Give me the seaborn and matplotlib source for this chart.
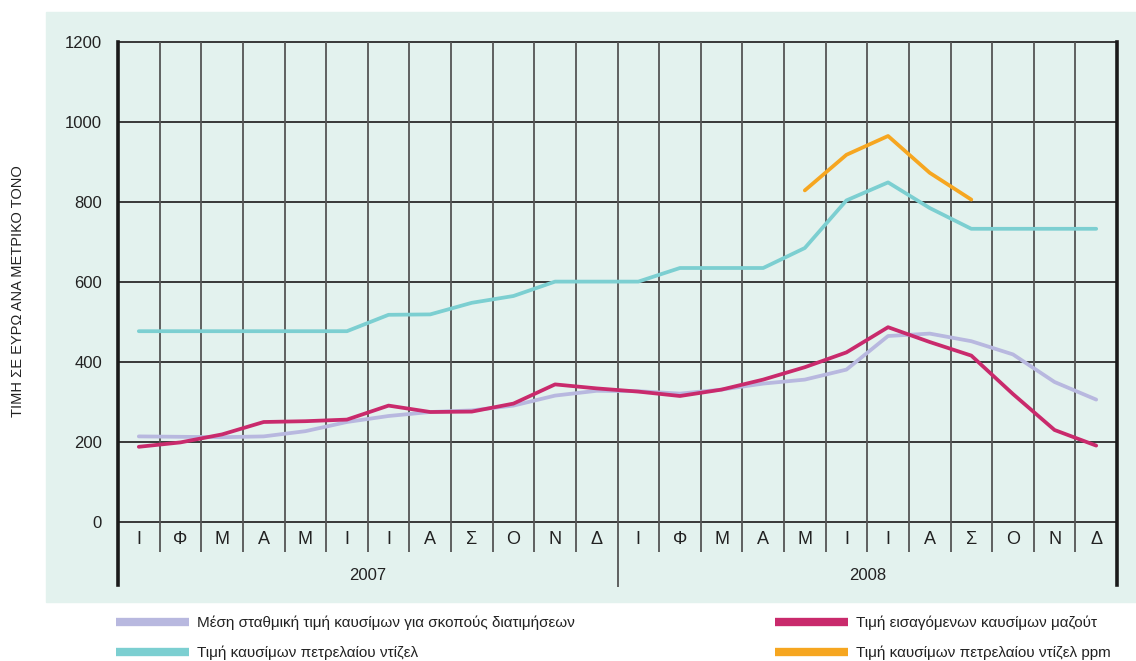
import pandas as pd
import numpy as np
import matplotlib
matplotlib.use('Agg')
import matplotlib.pyplot as plt
import seaborn as sns
from matplotlib.patches import Rectangle

# data (euro per metric tonne, monthly, 2007-2008)
months = ['Ι', 'Φ', 'Μ', 'Α', 'Μ', 'Ι', 'Ι', 'Α', 'Σ', 'Ο', 'Ν', 'Δ']
years = ['2007', '2008']

avg_price = [214, 213, 212, 214, 227, 250, 265, 275, 279, 291, 316, 328,
             327, 321, 331, 346, 356, 381, 465, 471, 452, 419, 350, 306]
mazout = [188, 199, 219, 250, 252, 256, 291, 275, 276, 296, 344, 334,
          326, 315, 331, 356, 387, 424, 487, 450, 416, 320, 230, 191]
diesel = [477, 477, 477, 477, 477, 477, 518, 519, 548, 565, 601, 601,
          601, 635, 635, 635, 685, 804, 849, 785, 733, 733, 733, 733]
diesel_ppm = [np.nan] * 16 + [829, 918, 965, 873, 806] + [np.nan] * 3

names = ['Μέση σταθμική τιμή καυσίμων για σκοπούς διατιμήσεων',
         'Τιμή καυσίμων πετρελαίου ντίζελ',
         'Τιμή εισαγόμενων καυσίμων μαζούτ',
         'Τιμή καυσίμων πετρελαίου ντίζελ ppm']
colors = ['#b8b8df', '#7ccfd1', '#c92a6c', '#f6a620']

x = np.arange(24) + 0.5
df = pd.DataFrame({'x': np.tile(x, 4),
                   'price': avg_price + diesel + mazout + diesel_ppm,
                   'series': np.repeat(names, 24)})

sns.set_style('white')
plt.rcParams['font.family'] = ['Liberation Sans', 'DejaVu Sans']

W, H = 1136, 661
fig = plt.figure(figsize=(W / 100, H / 100), dpi=100)
fig.patch.set_facecolor('white')

# light mint panel behind the chart
fig.patches.append(Rectangle((46 / W, 1 - 602 / H), (W - 46) / W, 590 / H,
                             transform=fig.transFigure, color='#e3f2ee', zorder=-1))

ax = fig.add_axes([118 / W, 1 - 522 / H, 999 / W, 480 / H])
ax.set_zorder(1)
ax.set_facecolor('none')

sns.lineplot(data=df, x='x', y='price', hue='series', palette=dict(zip(names, colors)),
             hue_order=names, lw=2.7, ax=ax, legend=False, zorder=5)

ax.set_xlim(0, 24)
ax.set_ylim(0, 1200)

# grid: horizontal lines plus month dividers that run into the label row
yt = list(range(0, 1201, 200))
ax.hlines(yt, 0, 24, colors='#2a2a2a', lw=1.3, clip_on=False, zorder=2)
ax.vlines([i for i in range(1, 24) if i != 12], -75, 1200, colors='#555555', lw=1.3,
          clip_on=False, zorder=2)
ax.vlines(12, -162, 1200, colors='#555555', lw=1.3, clip_on=False, zorder=2)

for side in ['top', 'bottom']:
    ax.spines[side].set_visible(False)
for side in ['left', 'right']:
    ax.spines[side].set_bounds(-158, 1200)
    ax.spines[side].set_linewidth(2.6)
    ax.spines[side].set_color('#1a1a1a')

ax.set_yticks(yt)
ax.set_yticklabels([str(v) for v in yt])
ax.set_xticks([])
ax.tick_params(axis='y', length=0, pad=11.5, labelsize=12, labelcolor='#222222')
ax.set_xlabel('')
ax.set_ylabel('')

# month and year labels under the axis
for i, m in enumerate(months * 2):
    ax.text(i + 0.5, -45, m, ha='center', va='center', fontsize=13, color='#222222')
for j, yr in enumerate(years):
    ax.text(6 + 12 * j, -135, yr, ha='center', va='center', fontsize=12, color='#222222')

fig.text(18 / W, 1 - 291 / H, 'ΤΙΜΗ ΣΕ ΕΥΡΩ ΑΝΑ ΜΕΤΡΙΚΟ ΤΟΝΟ', rotation=90,
         ha='center', va='center', fontsize=10.5, color='#222222')

# legend in two columns below the panel
handles = [plt.Line2D([], [], color=c, lw=6, solid_capstyle='butt') for c in colors]
kw = dict(frameon=False, fontsize=11, handlelength=4.8, handletextpad=0.5,
          labelspacing=1.0, borderpad=0, borderaxespad=0, labelcolor='#222222')
fig.legend(handles[:2], names[:2], loc='upper left',
           bbox_to_anchor=(116 / W, 1 - 616 / H), **kw)
fig.legend(handles[2:], names[2:], loc='upper left',
           bbox_to_anchor=(775 / W, 1 - 616 / H), **kw)

fig.savefig('out.png', dpi=100, facecolor='white')
